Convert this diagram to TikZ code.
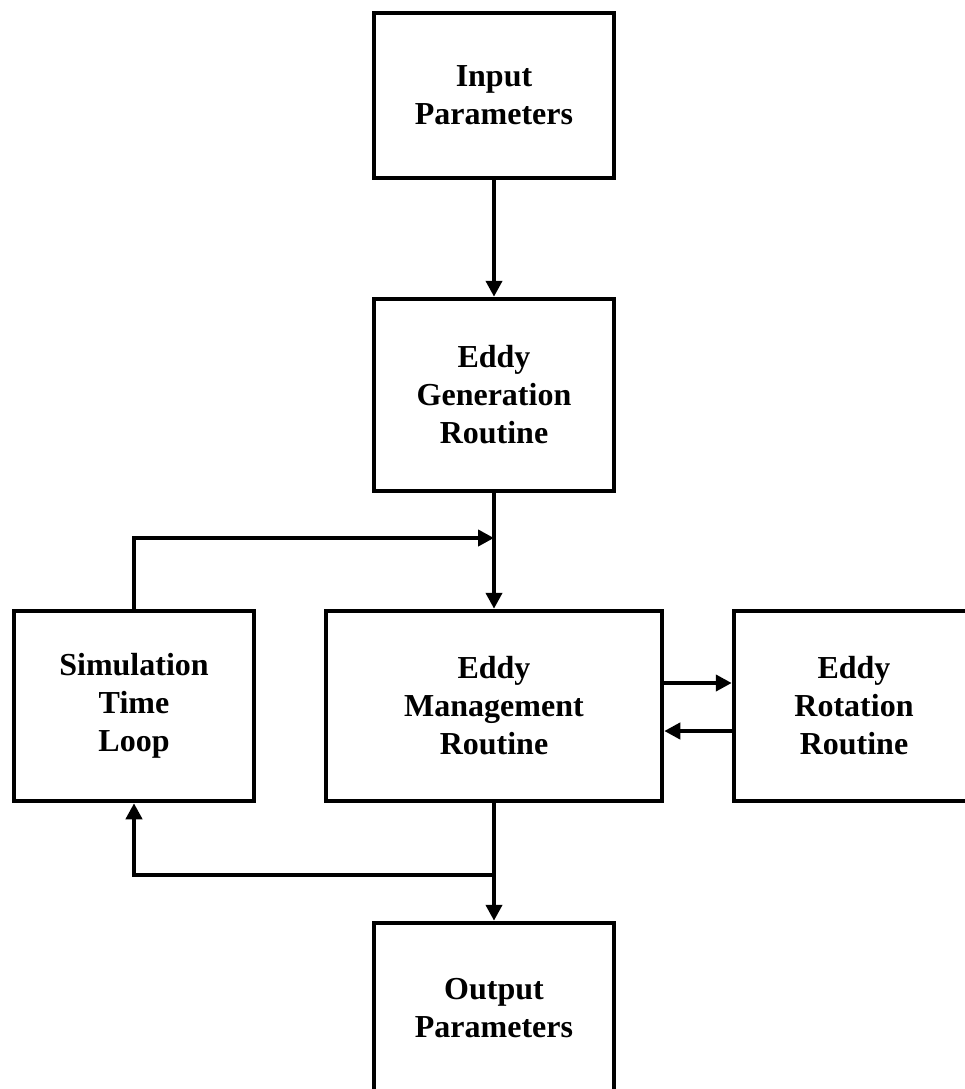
\documentclass[tikz,border=0pt]{standalone}
\usepackage{fontspec}
\setmainfont{Liberation Serif}
\usetikzlibrary{arrows.meta}
\tikzset{
  blk/.style={draw=black, line width=4.5pt, fill=white, align=center, inner sep=0pt,
    font=\fontsize{32}{38}\selectfont\bfseries},
  conn/.style={line width=4.5pt, -{Triangle[length=16pt,width=16pt]}}
}
\begin{document}
\begin{tikzpicture}[x=1pt,y=-1pt]
\useasboundingbox (0,0) rectangle (965,1089);
\node[blk, minimum width=240pt, minimum height=165pt] (inp) at (494,95.5) {Input\\Parameters};
\node[blk, minimum width=240pt, minimum height=192pt] (gen) at (494,395) {Eddy\\Generation\\Routine};
\node[blk, minimum width=240pt, minimum height=190pt] (sim) at (134,706) {Simulation\\Time\\Loop};
\node[blk, minimum width=336pt, minimum height=190pt] (mgt) at (494,706) {Eddy\\Management\\Routine};
\node[blk, minimum width=240pt, minimum height=190pt] (rot) at (854,706) {Eddy\\Rotation\\Routine};
\node[blk, minimum width=240pt, minimum height=170pt] (out) at (494,1008) {Output\\Parameters};
\coordinate (j1) at (494,538);
\coordinate (j2) at (494,875);
\draw[conn] (inp.south) -- (gen.north);
\draw[conn] (gen.south) -- (mgt.north);
\draw[conn] (sim.north) |- (j1);
\draw[conn] (mgt.east |- 0,683) -- (rot.west |- 0,683);
\draw[conn] (rot.west |- 0,731) -- (mgt.east |- 0,731);
\draw[conn] (mgt.south) -- (out.north);
\draw[conn] (j2) -| (sim.south);
\end{tikzpicture}
\end{document}
